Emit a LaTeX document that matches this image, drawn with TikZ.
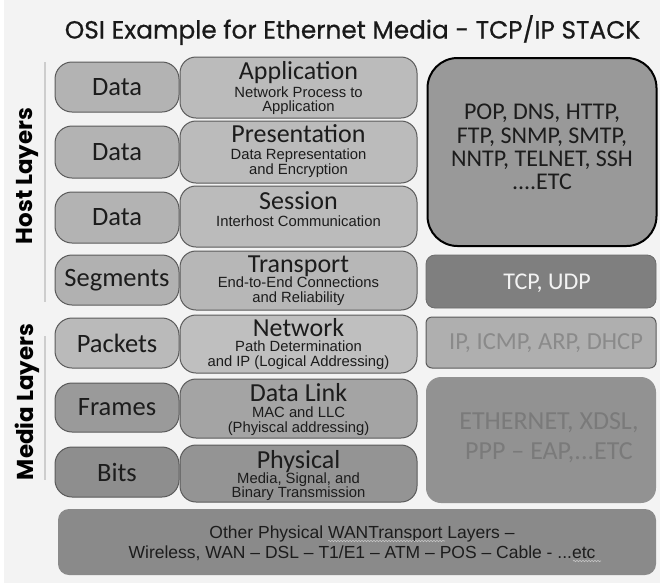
\documentclass[tikz,border=0pt]{standalone}
\usepackage{fontspec}
\setmainfont{Carlito}
\newfontfamily\titlefont{Poppins}[FakeBold=0.6]
\newfontfamily\sidefont{Poppins}
\newfontfamily\arialfont{Liberation Sans}
\usetikzlibrary{decorations.pathmorphing}
\definecolor{bgc}{HTML}{F3F3F3}
\definecolor{edgec}{HTML}{5A5A5A}
\definecolor{txt}{HTML}{1C1C1C}
\definecolor{hostdata}{HTML}{B3B3B3}
\definecolor{hostmain}{HTML}{BBBBBB}
\definecolor{segc}{HTML}{B1B1B1}
\definecolor{transc}{HTML}{B7B7B7}
\definecolor{pktc}{HTML}{BABABA}
\definecolor{netc}{HTML}{BFBFBF}
\definecolor{frmc}{HTML}{9A9A9A}
\definecolor{dlc}{HTML}{A4A4A4}
\definecolor{bitc}{HTML}{8E8E8E}
\definecolor{phyc}{HTML}{949494}
\definecolor{apptop}{HTML}{999999}
\definecolor{tcpc}{HTML}{7F7F7F}
\definecolor{ipc}{HTML}{AFAFAF}
\definecolor{iptxt}{HTML}{8A8A8A}
\definecolor{ethc}{HTML}{929292}
\definecolor{ethtxt}{HTML}{7A7A7A}
\definecolor{botc}{HTML}{8A8A8A}
\definecolor{vline}{HTML}{CDCDCD}
\begin{document}
\begin{tikzpicture}[x=1pt,y=-1pt,
  pdubox/.style={draw=edgec, line width=1pt, rounded corners=17pt, minimum width=124pt, inner sep=0pt,
    font=\fontsize{26.5}{28}\selectfont, text=txt},
  layerbox/.style={draw=edgec, line width=1pt, rounded corners=16pt, minimum width=237pt, inner sep=0pt},
  lname/.style={font=\fontsize{26}{26}\selectfont, text=txt, inner sep=0pt, text height=15pt, text depth=1pt},
  lsub/.style={font=\arialfont\fontsize{14.8}{14.6}\selectfont, align=center, text=txt, inner sep=0pt},
  protobox/.style={inner sep=0pt, minimum width=230pt},
  prototext/.style={font=\fontsize{24}{23.3}\selectfont, align=center, inner sep=0pt},
  sidelabel/.style={font=\sidefont\bfseries\fontsize{23}{24}\selectfont, rotate=90, inner sep=0pt, text=black},
  vrule/.style={draw=vline, line width=2pt},
  squiggle/.style={draw=gray!45!white, line width=0.6pt, decorate, decoration={snake, amplitude=0.7pt, segment length=3pt}}
]
\useasboundingbox (0,0) rectangle (660,587);
\fill[white] (0,0) rectangle (660,587);
\fill[bgc] (4,0) rectangle (660,583);

% title
\node[font=\titlefont\fontsize{24.8}{26}\selectfont, anchor=base, inner sep=0pt, text=black!90] (title) at (352.5,38.5)
  {OSI Example for Ethernet Media - TCP/IP STACK};

% side labels
\node[sidelabel] (host) at (27,176) {Host Layers};
\node[sidelabel] (media) at (27,402) {Media Layers};
\draw[vrule] (45,62) -- (45,302);
\draw[vrule] (45,336) -- (45,480);

% row 1 Application
\node[layerbox, fill=hostmain, minimum height=61pt] (m1) at (298.5,87.5) {};
\node[pdubox, fill=hostdata, minimum height=50pt] (d1) at (117,87) {Data};
\node[lname] (n1) at (298.5,72) {Application};
\node[lsub] (s1) at (298.5,100.5) {Network Process to\\Application};

% row 2 Presentation
\node[layerbox, fill=hostmain, minimum height=62pt] (m2) at (298.5,152) {};
\node[pdubox, fill=hostdata, minimum height=52pt] (d2) at (117,152) {Data};
\node[lname] (n2) at (298.5,135.5) {Presentation};
\node[lsub] (s2) at (298.5,163) {Data Representation\\and Encryption};

% row 3 Session
\node[layerbox, fill=hostmain, minimum height=61pt] (m3) at (298.5,216.5) {};
\node[pdubox, fill=hostdata, minimum height=51pt] (d3) at (117,217.5) {Data};
\node[lname] (n3) at (298.5,202) {Session};
\node[lsub] (s3) at (298.5,221) {Interhost Communication};

% row 4 Transport
\node[layerbox, fill=transc, minimum height=59pt] (m4) at (298.5,280.5) {};
\node[pdubox, fill=segc, minimum height=50pt] (d4) at (117,280) {Segments};
\node[lname] (n4) at (298.5,265) {Transport};
\node[lsub] (s4) at (298.5,291) {End-to-End Connections\\and Reliability};

% row 5 Network
\node[layerbox, fill=netc, minimum height=58pt] (m5) at (298.5,344) {};
\node[pdubox, fill=pktc, minimum height=50pt] (d5) at (117,343) {Packets};
\node[lname] (n5) at (298.5,329) {Network};
\node[lsub] (s5) at (298.5,355) {Path Determination\\and IP (Logical Addressing)};

% row 6 Data Link
\node[layerbox, fill=dlc, minimum height=59pt] (m6) at (298.5,408.5) {};
\node[pdubox, fill=frmc, minimum height=49pt] (d6) at (117,407.5) {Frames};
\node[lname] (n6) at (298.5,394) {Data Link};
\node[lsub] (s6) at (298.5,421) {MAC and LLC\\(Phyiscal addressing)};

% row 7 Physical
\node[layerbox, fill=phyc, minimum height=57pt] (m7) at (298.5,473.5) {};
\node[pdubox, fill=bitc, minimum height=50pt] (d7) at (117,472) {Bits};
\node[lname] (n7) at (298.5,461) {Physical};
\node[lsub] (s7) at (298.5,486.5) {Media, Signal, and\\Binary Transmission};

% right column
\node[protobox, draw=black, line width=2pt, fill=apptop, rounded corners=30pt, minimum width=229pt, minimum height=188pt] (pa) at (542,152) {};
\node[prototext, text=txt] (ta) at (542,147) {POP, DNS, HTTP,\\FTP, SNMP, SMTP,\\NNTP, TELNET, SSH\\....ETC};

\node[protobox, fill=tcpc, draw=tcpc!85!black, line width=0.8pt, rounded corners=9pt, minimum height=53pt] (pt) at (541,281.5) {};
\node[prototext, text=bgc] (tt) at (547,283) {TCP, UDP};

\node[protobox, fill=ipc, draw=edgec, line width=1pt, rounded corners=6pt, minimum height=51pt] (pi) at (541,342.5) {};
\node[prototext, text=iptxt, font=\fontsize{24.5}{26}\selectfont] (ti) at (546,343) {IP, ICMP, ARP, DHCP};

\node[protobox, fill=ethc, rounded corners=15pt, minimum height=126pt] (pe) at (541,440) {};
\node[prototext, text=ethtxt, font=\fontsize{26}{30}\selectfont] (te) at (549,438) {ETHERNET, XDSL,\\PPP – EAP,...ETC};

% bottom
\node[fill=botc, rounded corners=11pt, minimum width=598pt, minimum height=66pt, inner sep=0pt] (pb) at (357,542) {};
\node[font=\arialfont\fontsize{17.5}{20}\selectfont, align=center, text=txt, inner sep=0pt] (tb) at (362,543)
  {Other Physical WANTransport Layers –\\Wireless, WAN – DSL – T1/E1 – ATM – POS – Cable - ...etc};
\draw[squiggle] (328,541) -- (445,541);
\draw[squiggle] (573,561) -- (601,561);
\end{tikzpicture}
\end{document}
